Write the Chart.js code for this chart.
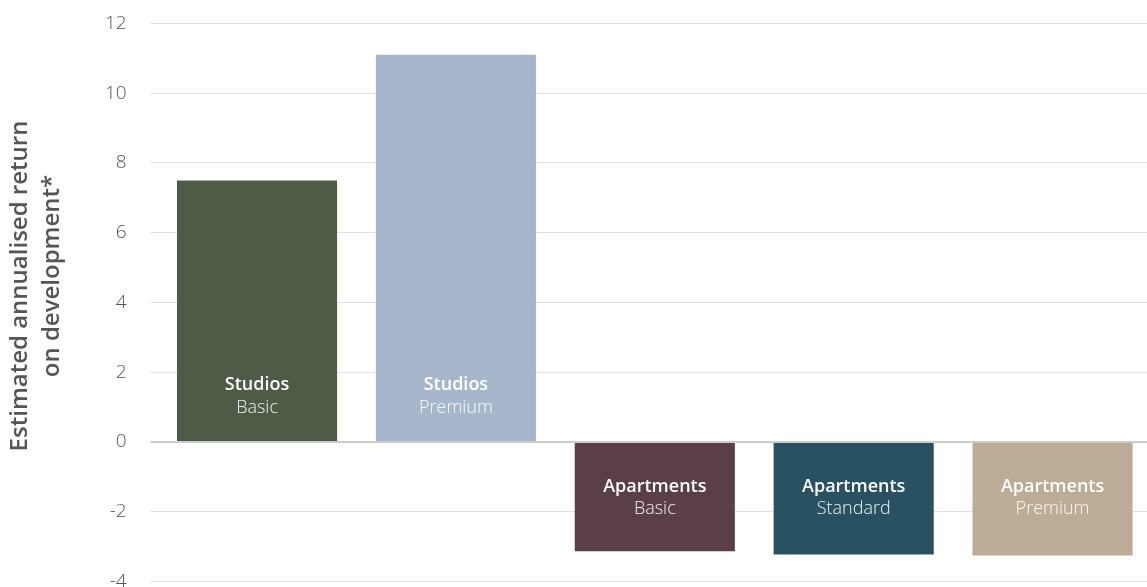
<!DOCTYPE html>
<html>
<head>
<meta charset="utf-8">
<script src="https://cdn.jsdelivr.net/npm/chart.js@4.4.1/dist/chart.umd.min.js"></script>
<style>
  html, body { margin: 0; padding: 0; overflow: hidden; background: #ffffff; }
  #wrap { position: absolute; left: 0; top: -12px; }
</style>
</head>
<body>
<div id="wrap"><canvas id="c" width="1152" height="629"></canvas></div>
<script>
// ---- Data ----
const categories = ['Studios Basic', 'Studios Premium', 'Apartments Basic', 'Apartments Standard', 'Apartments Premium'];
const labelMain = ['Studios', 'Studios', 'Apartments', 'Apartments', 'Apartments'];
const labelSub = ['Basic', 'Premium', 'Basic', 'Standard', 'Premium'];
const returnValues = [7.5, 11.1, -3.13, -3.22, -3.25];
const barColors = ['#4d5b47', '#a6b7cc', '#5a3f48', '#285262', '#bcab95'];
const yTicks = { min: -4, max: 12, step: 2 };
const yTitleLines = ['Estimated annualised return', 'on development*'];

const FONT = '"Open Sans", Lato, sans-serif';
const PAGE_OFFSET = 12; // canvas shifted up by this many px

const barLabelPlugin = {
  id: 'barLabels',
  afterDatasetsDraw(chart) {
    const ctx = chart.ctx;
    const meta = chart.getDatasetMeta(0);
    ctx.save();
    ctx.textAlign = 'center';
    ctx.textBaseline = 'middle';
    meta.data.forEach((bar, i) => {
      const base = bar.base;
      const v = returnValues[i];
      let y1, y2;
      if (v >= 0) { y1 = base - 56; y2 = base - 33; }
      else { y1 = base + 44; y2 = base + 66; }
      ctx.fillStyle = '#ffffff';
      ctx.font = '600 18px ' + FONT;
      ctx.fillText(labelMain[i], bar.x, y1);
      ctx.fillStyle = 'rgba(255,255,255,0.92)';
      ctx.font = '300 18px ' + FONT;
      ctx.fillText(labelSub[i], bar.x, y2);
    });
    ctx.restore();
  }
};

const yTitlePlugin = {
  id: 'yTitle',
  afterDraw(chart) {
    const ctx = chart.ctx;
    ctx.save();
    ctx.fillStyle = '#555555';
    ctx.font = '600 24px ' + FONT;
    ctx.textAlign = 'center';
    ctx.textBaseline = 'middle';
    ctx.translate(20, 286 + PAGE_OFFSET);
    ctx.rotate(-Math.PI / 2);
    ctx.fillText(yTitleLines[0], 0, 0);
    ctx.fillText(yTitleLines[1], 10, 32);
    ctx.restore();
  }
};

new Chart(document.getElementById('c'), {
  type: 'bar',
  data: {
    labels: categories,
    datasets: [{
      data: returnValues,
      backgroundColor: barColors,
      borderWidth: 0,
      categoryPercentage: 1.0,
      barPercentage: 0.805
    }]
  },
  options: {
    responsive: false,
    animation: false,
    layout: { padding: 0 },
    plugins: { legend: { display: false }, tooltip: { enabled: false } },
    scales: {
      x: { display: false },
      y: {
        min: yTicks.min,
        max: yTicks.max,
        border: { display: false },
        afterFit(scale) { scale.width = 157.6; },
        ticks: {
          stepSize: yTicks.step,
          padding: 24,
          color: '#555555',
          font: { family: FONT, size: 19, weight: '300' }
        },
        grid: {
          drawTicks: true,
          tickLength: 7,
          color: ctx => ctx.tick && ctx.tick.value === 0 ? '#cccccc' : '#e0e0e0',
          tickColor: ctx => ctx.tick && ctx.tick.value === 0 ? '#cccccc' : '#e0e0e0',
          lineWidth: ctx => ctx.tick && ctx.tick.value === 0 ? 2 : 1
        }
      }
    }
  },
  plugins: [barLabelPlugin, yTitlePlugin]
});
</script>
</body>
</html>
